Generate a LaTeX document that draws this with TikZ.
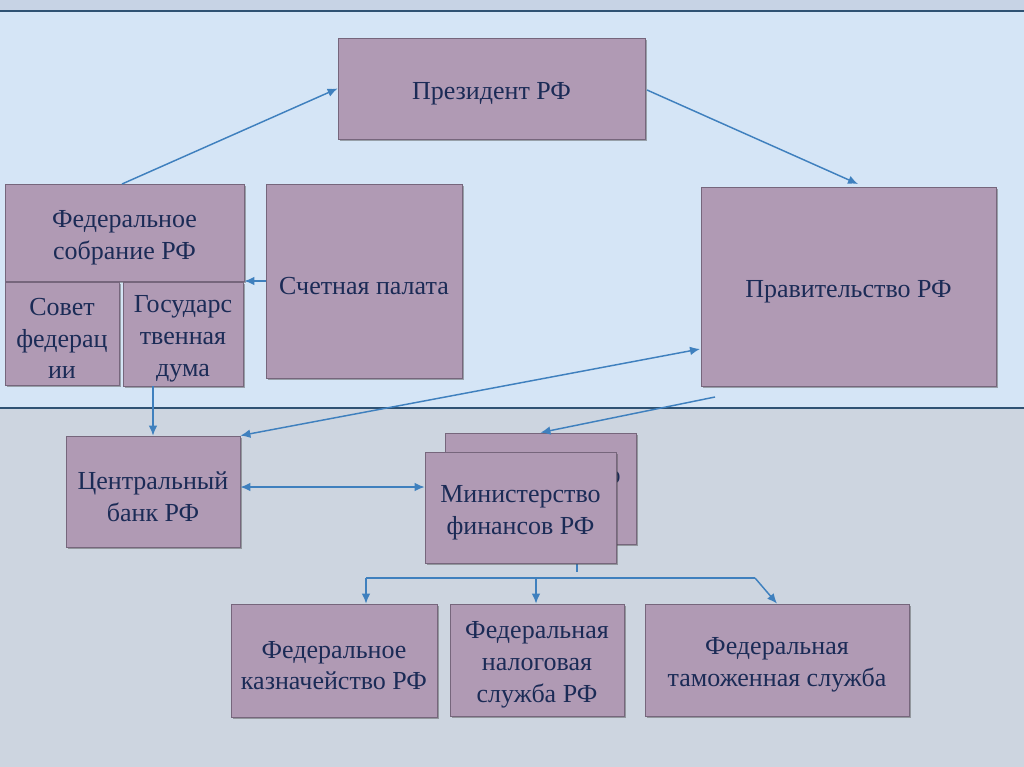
\documentclass[tikz,border=0pt]{standalone}
\usepackage{fontspec}
\setmainfont{Liberation Serif}
\usetikzlibrary{shadows,arrows.meta,calc}
\definecolor{bandtop}{HTML}{C7D3E5}
\definecolor{bandblue}{HTML}{D5E5F6}
\definecolor{bandgray}{HTML}{CDD5E0}
\definecolor{bandline}{HTML}{2F5273}
\definecolor{boxfill}{HTML}{B09AB4}
\definecolor{boxline}{HTML}{76667C}
\definecolor{boxtext}{HTML}{1B2B56}
\definecolor{arrowblue}{HTML}{3F80BE}
\tikzset{
  x=0.75pt, y=-0.75pt,
  box/.style={draw=boxline, line width=0.6pt, fill=boxfill, inner sep=0pt,
    drop shadow={shadow xshift=1.6pt, shadow yshift=-1.8pt, opacity=0.45, fill=black!70}},
  boxtxt/.style={text=boxtext, align=center, inner sep=0pt,
    font=\fontsize{19.5}{23.8}\selectfont},
  conn/.style={draw=arrowblue, line width=1.1pt},
  arr/.style={conn, -{Latex[length=7.5pt,width=6.5pt]}},
  darr/.style={conn, {Latex[length=7.5pt,width=6.5pt]}-{Latex[length=7.5pt,width=6.5pt]}},
  band/.style={draw=bandline, line width=2.2pt}
}
\newcommand\bx[6]{%
  \node[box, minimum width={(#4-#2)*0.75pt}, minimum height={(#5-#3)*0.75pt}] (#1) at ({(#2+#4)/2},{(#3+#5)/2}) {};
  \node[boxtxt] (#1-t) at ($(#1.center)+(0,5)$) {#6};}
\begin{document}
\begin{tikzpicture}
\useasboundingbox (0,0) rectangle (1024,767);
% background bands
\fill[bandtop] (0,0) rectangle (1024,11);
\fill[bandblue] (0,11) rectangle (1024,408);
\fill[bandgray] (0,408) rectangle (1024,767);
\coordinate (l1a) at (0,11); \coordinate (l1b) at (1024,11);
\coordinate (l2a) at (0,408); \coordinate (l2b) at (1024,408);
\draw[band] (l1a) -- (l1b);
\draw[band] (l2a) -- (l2b);

% boxes
\bx{pres}{338}{38}{645}{139}{Президент РФ}
\bx{fed}{5}{184}{244}{281}{Федеральное\\собрание РФ}
\bx{sov}{5}{282}{119}{385}{Совет\\федерац\\ии}
\bx{duma}{123}{282}{243}{386}{Государс\\твенная\\дума}
\bx{sp}{266}{184}{462}{378}{Счетная палата}
\bx{prav}{701}{187}{996}{386}{Правительство РФ}
\bx{cb}{66}{436}{240}{547}{Центральный\\банк РФ}
\bx{min2}{445}{433}{636}{544}{Министерство\\финансов РФ}
\coordinate (tick) at (577,572);
\draw[conn] (min2.south -| tick) -- (tick);
\bx{min1}{425}{452}{616}{563}{Министерство\\финансов РФ}
\bx{kaz}{231}{604}{437}{717}{Федеральное\\казначейство РФ}
\bx{nal}{450}{604}{624}{716}{Федеральная\\налоговая\\служба РФ}
\bx{tam}{645}{604}{909}{716}{Федеральная\\таможенная служба}

% connectors
\coordinate (p1) at (122,184);
\draw[arr] (p1) -- (pres.west);
\coordinate (p2) at (647,90);
\coordinate (p3) at (858,184);
\draw[arr] (p2) -- (p3);
\draw[arr] (sp.west) -- (sp.west -| fed.east);
\coordinate (dx) at (153,0);
\draw[arr] (duma.south -| dx) -- (cb.north -| dx);
\coordinate (pv) at (700,349);
\draw[darr] (cb.north east) -- (pv);
\coordinate (pb) at (715,397);
\draw[arr] (pb) -- (min2.north);
\coordinate (my) at (0,487);
\draw[darr] (cb.east |- my) -- (min1.west |- my);
\coordinate (h1) at (366,578);
\coordinate (hm) at (536,578);
\coordinate (h2) at (755,578);
\draw[conn] (h1) -- (h2);
\draw[arr] (h1) -- (kaz.north -| h1);
\draw[arr] (hm) -- (nal.north -| hm);
\draw[arr] (h2) -- (tam.north);
\end{tikzpicture}
\end{document}
